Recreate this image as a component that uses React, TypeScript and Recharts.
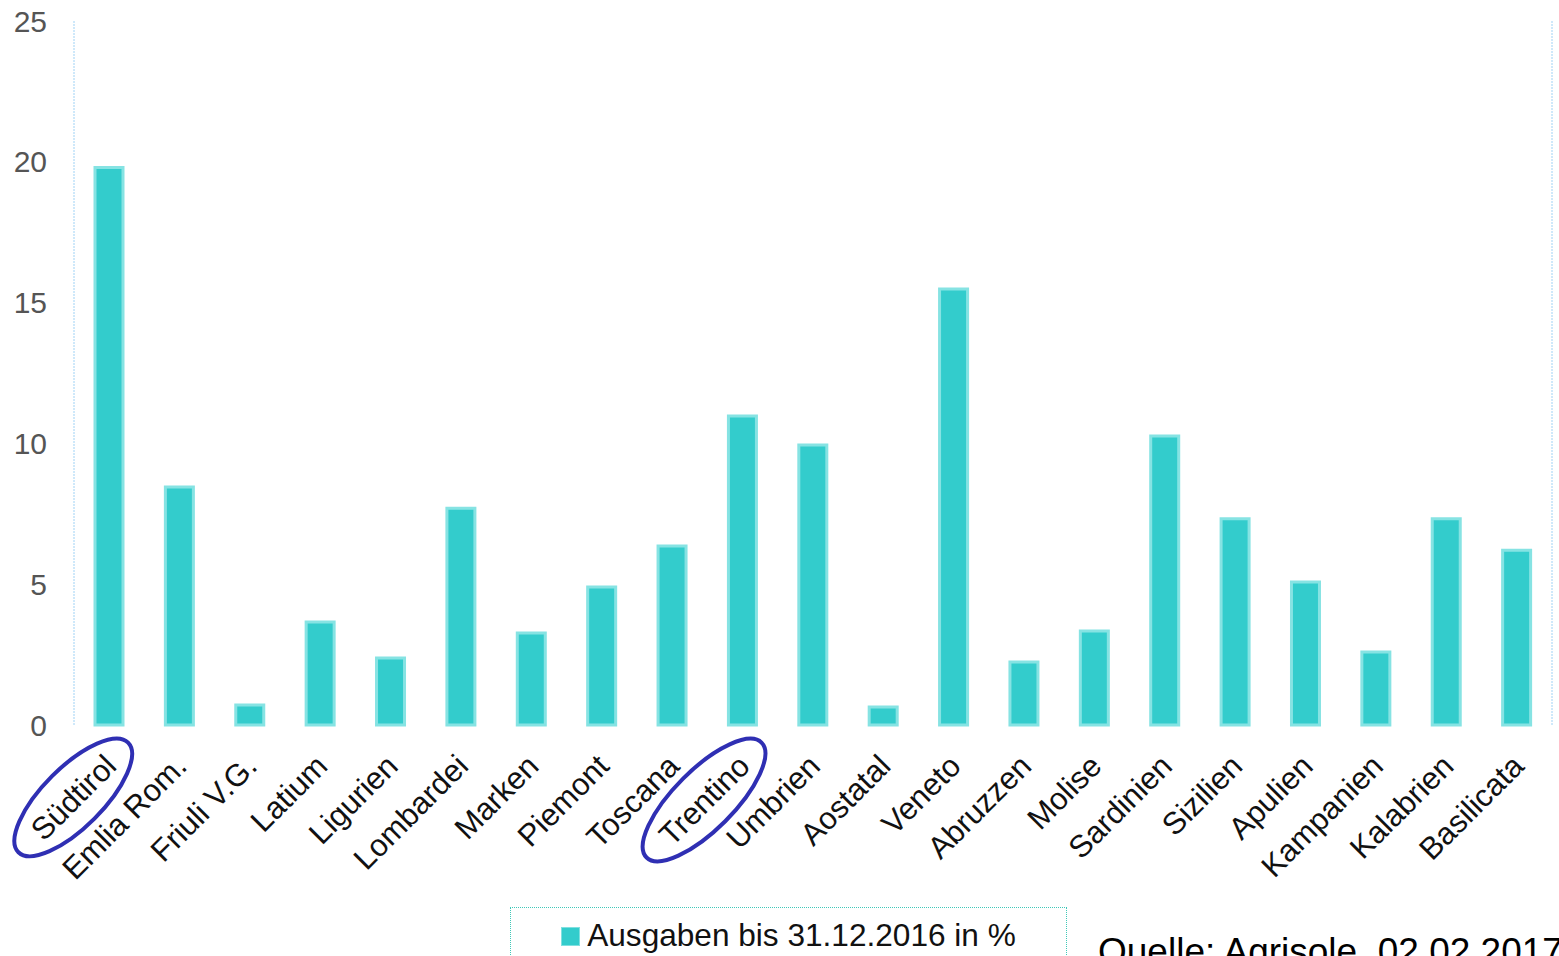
import React, { useLayoutEffect, useRef, useState } from "react";
import { BarChart, Bar, XAxis, YAxis, CartesianGrid, Legend } from "recharts";

const categories = [
  "Südtirol", "Emlia Rom.", "Friuli V.G.", "Latium", "Ligurien", "Lombardei", "Marken",
  "Piemont", "Toscana", "Trentino", "Umbrien", "Aostatal", "Veneto", "Abruzzen", "Molise",
  "Sardinien", "Sizilien", "Apulien", "Kampanien", "Kalabrien", "Basilicata",
];
const ausgaben = [
  19.8, 8.45, 0.71, 3.66, 2.38, 7.7, 3.27, 4.9, 6.36, 10.97, 9.94, 0.64, 15.48, 2.24, 3.34,
  10.26, 7.32, 5.08, 2.59, 7.32, 6.21,
];
const yTicks = [0, 5, 10, 15, 20, 25];
const highlighted = ["Südtirol", "Trentino"];
const seriesName = "Ausgaben bis 31.12.2016 in %";
const sourceNote = "Quelle: Agrisole, 02.02.2017";

const data = categories.map((c, i) => ({ region: c, value: ausgaben[i] }));
const boundaryTicks = categories.map((_, i) => i).concat([categories.length]);

const FONT = "'Liberation Sans', Arial, sans-serif";
const LEGEND_H = 62;

const XTick = (props: any) => {
  const { x, y, payload } = props;
  const label: string = payload.value;
  const ref = useRef<SVGTextElement>(null);
  const [len, setLen] = useState(label.length * 13);
  useLayoutEffect(() => {
    if (ref.current) setLen(ref.current.getComputedTextLength());
  }, [label]);
  const ax = x + 9;
  const ay = y + 33;
  const hl = highlighted.includes(label);
  return (
    <g transform={`translate(${ax},${ay}) rotate(-45)`}>
      <text ref={ref} x={0} y={0} textAnchor="end" fontSize={31} fontFamily={FONT} fill="#111">
        {label}
      </text>
      {hl && (
        <ellipse
          cx={-len / 2}
          cy={-11}
          rx={len / 2 + 25}
          ry={30}
          fill="none"
          stroke="#2f2fb3"
          strokeWidth={4}
        />
      )}
    </g>
  );
};

const LegendContent = () => (
  <div
    style={{
      width: 557,
      height: LEGEND_H,
      boxSizing: "border-box",
      border: "1px dotted #40c8b8",
      display: "flex",
      alignItems: "flex-start",
      justifyContent: "center",
      paddingTop: 10,
      fontFamily: FONT,
      fontSize: 31.6,
      color: "#111",
    }}
  >
    <span style={{ display: "inline-block", width: 17, height: 17, background: "#33CCCC", border: "1px solid #80e0e0", marginRight: 7, marginTop: 9 }} />
    <span style={{ lineHeight: "34px" }}>{seriesName}</span>
  </div>
);

export default function App() {
  return (
    <div style={{ position: "absolute", left: 0, top: 0, width: 1559, height: 956, overflow: "hidden", background: "#fff" }}>
      <BarChart
        width={1559}
        height={956}
        data={data}
        margin={{ top: 21, right: 0, left: 0, bottom: 0 }}
        barCategoryGap={0}
      >
        <CartesianGrid
          vertical={false}
          stroke="#c8c8c8"
          strokeDasharray="2 2"
          horizontalValues={[5, 10, 15, 20]}
        />
        <XAxis
          xAxisId="bounds"
          type="number"
          domain={[0, categories.length]}
          ticks={boundaryTicks}
          allowDataOverflow
          height={0}
          tick={false}
          tickSize={10}
          tickLine={{ stroke: "#c8c8c8" }}
          axisLine={{ stroke: "#c8c8c8", strokeDasharray: "2 2" }}
        />
        <XAxis
          dataKey="region"
          xAxisId="bottom"
          height={231 - LEGEND_H}
          interval={0}
          tick={<XTick />}
          tickSize={10}
          tickMargin={0}
          axisLine={false}
          tickLine={false}
        />
        <XAxis
          dataKey="region"
          xAxisId="top"
          orientation="top"
          height={0}
          tick={false}
          tickLine={false}
          axisLine={{ stroke: "#9fd2f5", strokeDasharray: "2 1" }}
        />
        <YAxis
          yAxisId="left"
          width={74}
          domain={[0, 25]}
          ticks={yTicks}
          tickLine={false}
          tickSize={0}
          tickMargin={27}
          axisLine={{ stroke: "#9fd2f5", strokeDasharray: "2 1" }}
          tick={{ fontSize: 30, fill: "#555", fontFamily: FONT }}
        />
        <YAxis
          yAxisId="right"
          orientation="right"
          width={7}
          domain={[0, 25]}
          tick={false}
          tickLine={false}
          axisLine={{ stroke: "#9fd2f5", strokeDasharray: "2 1" }}
        />
        <Legend
          layout="horizontal"
          verticalAlign="bottom"
          align="left"
          content={<LegendContent />}
          wrapperStyle={{ left: 510, top: 907, bottom: "auto", width: 557, height: LEGEND_H }}
        />
        <Bar
          dataKey="value"
          name={seriesName}
          xAxisId="bottom"
          yAxisId="left"
          fill="#33CCCC"
          stroke="#86e3e3"
          strokeWidth={3}
          barSize={28}
          isAnimationActive={false}
        />
      </BarChart>
      <div
        style={{
          position: "absolute",
          left: 1098,
          top: 933,
          fontFamily: FONT,
          fontSize: 37,
          lineHeight: 1,
          color: "#000",
          whiteSpace: "nowrap",
        }}
      >
        {sourceNote}
      </div>
    </div>
  );
}
